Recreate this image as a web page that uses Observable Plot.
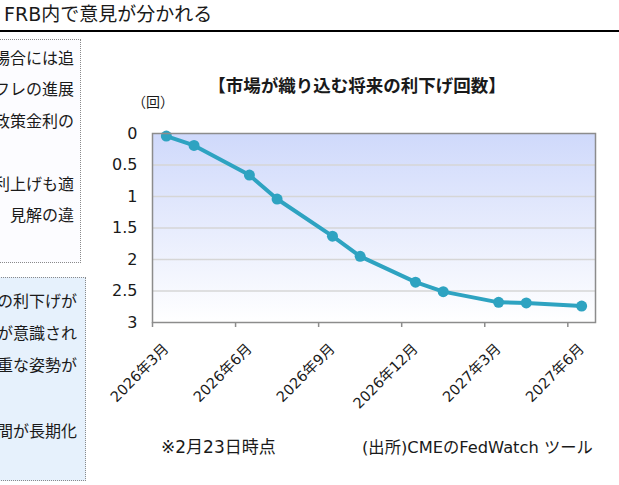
<!DOCTYPE html>
<html><head><meta charset="utf-8">
<script src="https://cdn.jsdelivr.net/npm/d3@7"></script>
<script src="https://cdn.jsdelivr.net/npm/@observablehq/plot@0.6"></script>
<style>
html,body{margin:0;padding:0}
body{width:619px;height:485px;overflow:hidden;background:#fff;position:relative;font-family:"DejaVu Sans","Noto Sans CJK JP",sans-serif;color:#1a1a1a}
.abs{position:absolute;white-space:nowrap}
.box{position:absolute;box-sizing:border-box;border:1px dotted #8a8a8a}
.ln{position:absolute;white-space:nowrap;font-family:"Noto Sans CJK JP",sans-serif;font-size:16px;line-height:20px;text-align:right}
#chart{position:absolute;left:0;top:0}
</style></head><body>
<div class="abs" style="left:4px;top:2px;font-size:19px;line-height:24px;">FRB内で意見が分かれる</div>
<div class="abs" style="left:0;top:30px;width:619px;height:2px;background:#000"></div>

<div class="box" style="left:-10px;top:39px;width:91px;height:224px;background:#fcfcff"></div>
<div class="ln" style="right:545px;top:47px">場合には追</div>
<div class="ln" style="right:545px;top:78px">インフレの進展</div>
<div class="ln" style="right:545px;top:110px">政策金利の</div>
<div class="ln" style="right:545px;top:173px">利上げも適</div>
<div class="ln" style="right:545px;top:204px">見解の違</div>

<div class="box" style="left:-10px;top:277px;width:96px;height:204px;background:#e6f1fc"></div>
<div class="ln" style="right:542px;top:290px">での利下げが</div>
<div class="ln" style="right:542px;top:322px">リスクが意識され</div>
<div class="ln" style="right:542px;top:354px">慎重な姿勢が</div>
<div class="ln" style="right:542px;top:420px">期間が長期化</div>

<div class="abs" style="left:357px;top:74px;transform:translateX(-50%);font-size:17.5px;font-weight:bold;line-height:22px;font-family:'Noto Sans CJK JP',sans-serif">【市場が織り込む将来の利下げ回数】</div>
<div class="abs" style="left:153px;top:92px;transform:translateX(-50%);font-size:14px;line-height:18px;font-family:'Noto Sans CJK JP',sans-serif">（回）</div>
<div class="abs" style="left:161px;top:436px;font-size:17px;line-height:22px">※2月23日時点</div>
<div class="abs" style="left:362px;top:437px;font-size:16.3px;line-height:22px">(出所)CMEのFedWatch ツール</div>

<div id="chart"></div>
<script>
// FOMC meeting months and market-implied cumulative number of rate cuts
const meetings = ["2026-03","2026-04","2026-06","2026-07","2026-09","2026-10","2026-12","2027-01","2027-03","2027-04","2027-06"];
const cuts = [0.04, 0.19, 0.66, 1.04, 1.63, 1.95, 2.36, 2.51, 2.68, 2.69, 2.74];
const yTicks = [0, 0.5, 1, 1.5, 2, 2.5, 3];
const xTickMonths = ["2026-03","2026-06","2026-09","2026-12","2027-03","2027-06"];
const xTickLabels = ["2026年3月","2026年6月","2026年9月","2026年12月","2027年3月","2027年6月"];
const axisStart = "2026-03";
const axisMonths = 16;

const mi = s => {
  const [y, m] = s.split("-").map(Number);
  const [y0, m0] = axisStart.split("-").map(Number);
  return (y - y0) * 12 + (m - m0);
};
const data = meetings.map((d, i) => ({x: mi(d) + 0.5, v: cuts[i]}));
const labels = xTickMonths.map((d, i) => ({x: mi(d) + 0.5, t: xTickLabels[i], y: yTicks[yTicks.length - 1]}));
const tickIdx = xTickMonths.map(mi);
const grid = yTicks.slice(1, -1);
const col = "#2ea3c1";

const svg = Plot.plot({
  width: 619, height: 485,
  marginTop: 133, marginLeft: 152, marginRight: 24, marginBottom: 163,
  style: {background: "transparent", color: "#1a1a1a", fontFamily: "'DejaVu Sans','Noto Sans CJK JP',sans-serif", fontSize: "15px", overflow: "visible"},
  x: {type: "linear", domain: [0, axisMonths], label: null},
  y: {domain: [yTicks[0], yTicks[yTicks.length - 1]], reverse: true, label: null},
  marks: [
    Plot.frame({fill: "url(#bg)", stroke: "none"}),
    Plot.ruleY(grid, {stroke: "#d6d6d6", strokeWidth: 1.5}),
    Plot.axisX(tickIdx, {tickSize: 5, tickFormat: () => "", stroke: "#8c8c8c", strokeWidth: 1.5, label: null}),
    Plot.axisY(yTicks, {tickSize: 0, tickPadding: 15, fontSize: 16, label: null, tickFormat: d => String(d)}),
    Plot.line(data, {x: "x", y: "v", stroke: col, strokeWidth: 4}),
    Plot.dot(data, {x: "x", y: "v", r: 5.5, fill: col, stroke: "none"}),
    Plot.frame({stroke: "#8c8c8c", strokeWidth: 1.5}),
    Plot.text(labels, {x: "x", y: "y", text: "t", rotate: -45, textAnchor: "end", dy: 24, fontSize: 14.5})
  ]
});
d3.select(svg).insert("defs", ":first-child").html('<linearGradient id="bg" x1="0" y1="0" x2="0" y2="1"><stop offset="0" stop-color="#cfd9fb"/><stop offset="1" stop-color="#ffffff"/></linearGradient>');
document.getElementById("chart").appendChild(svg);
</script>
</body></html>
